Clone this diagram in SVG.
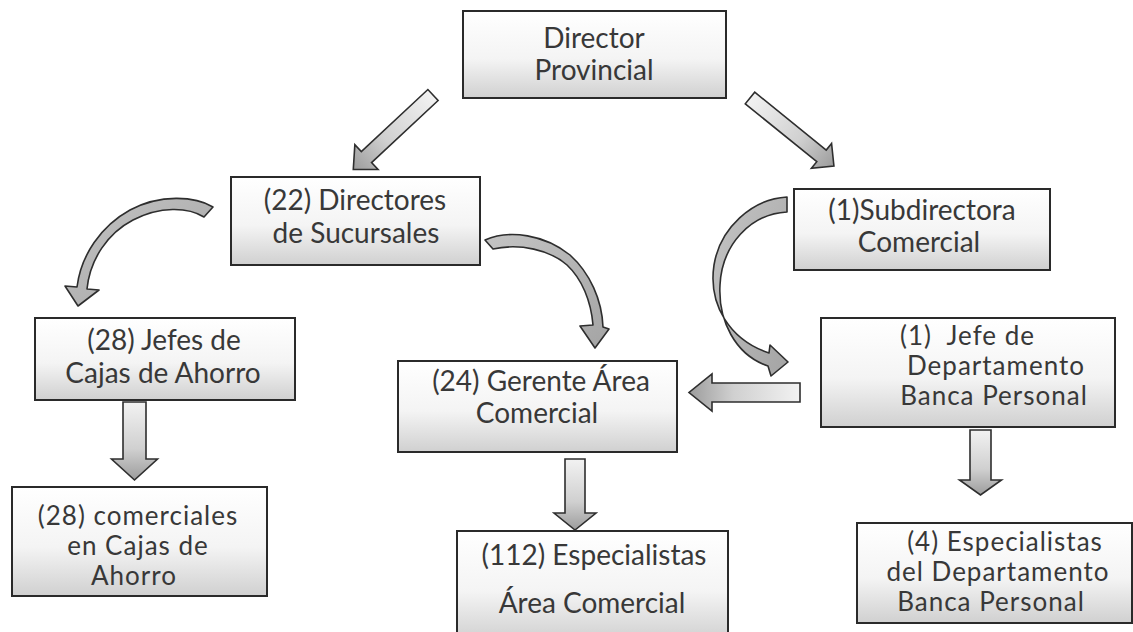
<svg xmlns="http://www.w3.org/2000/svg" width="1133" height="632" viewBox="0 0 1133 632">
  <defs>
    <linearGradient id="boxFill" x1="0" y1="0" x2="0" y2="1">
      <stop offset="0" stop-color="#ffffff"/>
      <stop offset="0.55" stop-color="#f4f4f4"/>
      <stop offset="1" stop-color="#d0d0d0"/>
    </linearGradient>
    <linearGradient id="blockFill" x1="0" y1="0" x2="1" y2="0">
      <stop offset="0" stop-color="#f2f2f2"/>
      <stop offset="0.6" stop-color="#d0d0d0"/>
      <stop offset="1" stop-color="#9c9c9c"/>
    </linearGradient>
    <linearGradient id="curveFill" x1="0" y1="0" x2="1" y2="1">
      <stop offset="0" stop-color="#c4c4c4"/>
      <stop offset="1" stop-color="#a4a4a4"/>
    </linearGradient>
  </defs>
  <style>
    .box { fill: url(#boxFill); stroke: #2a2a2a; stroke-width: 2; }
    .lbl { font-family: Lato, "Open Sans", sans-serif; font-size: 28px; fill: #383838; text-anchor: middle; }
    .tight { font-size: 26px; letter-spacing: 1px; }
    .pre { white-space: pre; text-anchor: start; }
    .block { fill: url(#blockFill); stroke: #2e2e2e; stroke-width: 1.6; stroke-linejoin: miter; }
    .curve { fill: url(#curveFill); stroke: #2e2e2e; stroke-width: 1.6; stroke-linejoin: round; }
  </style>

  <rect width="1133" height="632" fill="#ffffff"/>

  <!-- connectors: block arrows and curved arrows -->
  <g id="connectors">
    <!-- Director Provincial to Directores de Sucursales -->
    <polygon class="block" transform="translate(433,95) rotate(137)" points="0,-7.5 91,-7.5 91,-17 109,0 91,17 91,7.5 0,7.5"/>
    <!-- Director Provincial to Subdirectora Comercial -->
    <polygon class="block" transform="translate(750,98) rotate(39)" points="0,-7.5 92,-7.5 92,-16 108,0 92,16 92,7.5 0,7.5"/>
    <!-- Jefes de Cajas to comerciales -->
    <polygon class="block" transform="translate(134.5,402) rotate(90)" points="0,-11.5 57,-11.5 57,-23 78,0 57,23 57,11.5 0,11.5"/>
    <!-- Gerente to Especialistas Area Comercial -->
    <polygon class="block" transform="translate(575,459) rotate(90)" points="0,-10 54,-10 54,-21 71,0 54,21 54,10 0,10"/>
    <!-- Jefe de Departamento to Especialistas del Departamento -->
    <polygon class="block" transform="translate(980.5,430) rotate(90)" points="0,-10.5 50,-10.5 50,-21 65,0 50,21 50,10.5 0,10.5"/>
    <!-- Jefe de Departamento to Gerente -->
    <polygon class="block" transform="translate(800,392.5) rotate(180)" points="0,-9.5 88,-9.5 88,-18.5 111,0 88,18.5 88,9.5 0,9.5"/>

    <!-- curved: Directores to Jefes de Cajas -->
    <path class="curve" d="M213,207 C195,196 160,194 130,210 C101,226 81,255 77,287 L65,286 L78,306 L99,290 L87,289 C90,259 108,233 133,220 C160,206 188,207 204,217 Z"/>
    <!-- curved: Directores to Gerente -->
    <path class="curve" d="M485,240 C510,229 545,235 570,255 C590,273 602,300 603,327 L609,329 L595,348 L580,326 L593,325 C591,301 582,279 567,265 C550,250 520,243 493,249 Z"/>
    <!-- curved: Subdirectora to Jefe de Departamento -->
    <path class="curve" d="M787,197 C752,199 720,228 714,265 C708,305 730,340 769,353 L770,345 L788,362 L771,376 L768,366 C735,355 718,320 720,285 C722,245 750,214 787,212 Z"/>
  </g>

  <g id="director-provincial">
    <rect class="box" x="463" y="11" width="263" height="87"/>
    <text class="lbl" x="594" y="48">Director</text>
    <text class="lbl" x="594" y="80">Provincial</text>
  </g>

  <g id="directores-sucursales">
    <rect class="box" x="231" y="177" width="249" height="88"/>
    <text class="lbl" x="355" y="210">(22) Directores</text>
    <text class="lbl" x="356" y="243">de Sucursales</text>
  </g>

  <g id="subdirectora-comercial">
    <rect class="box" x="794" y="189" width="256" height="81"/>
    <text class="lbl" x="922" y="220">(1)Subdirectora</text>
    <text class="lbl" x="919" y="252">Comercial</text>
  </g>

  <g id="jefes-cajas">
    <rect class="box" x="35" y="318" width="260" height="82"/>
    <text class="lbl" x="164" y="350">(28) Jefes de</text>
    <text class="lbl" x="163" y="383">Cajas de Ahorro</text>
  </g>

  <g id="comerciales-cajas">
    <rect class="box" x="12" y="487" width="255" height="109"/>
    <text class="lbl tight" x="138" y="525">(28) comerciales</text>
    <text class="lbl tight" x="138" y="555">en Cajas de</text>
    <text class="lbl tight" x="134" y="585">Ahorro</text>
  </g>

  <g id="gerente-area">
    <rect class="box" x="398" y="361" width="279" height="91"/>
    <text class="lbl" x="541" y="391">(24) Gerente Área</text>
    <text class="lbl" x="537" y="423">Comercial</text>
  </g>

  <g id="especialistas-area">
    <rect class="box" x="457" y="531" width="271" height="110"/>
    <text class="lbl" x="594" y="565">(112) Especialistas</text>
    <text class="lbl" x="592" y="613">Área Comercial</text>
  </g>

  <g id="jefe-departamento">
    <rect class="box" x="821" y="318" width="294" height="109"/>
    <text class="lbl tight pre" x="900" y="345">(1)  Jefe de</text>
    <text class="lbl tight" x="996" y="375">Departamento</text>
    <text class="lbl tight" x="994" y="405">Banca Personal</text>
  </g>

  <g id="especialistas-departamento">
    <rect class="box" x="857" y="523" width="275" height="100"/>
    <text class="lbl tight" x="1005" y="551">(4) Especialistas</text>
    <text class="lbl tight" x="998" y="581">del Departamento</text>
    <text class="lbl tight" x="991" y="611">Banca Personal</text>
  </g>
</svg>
